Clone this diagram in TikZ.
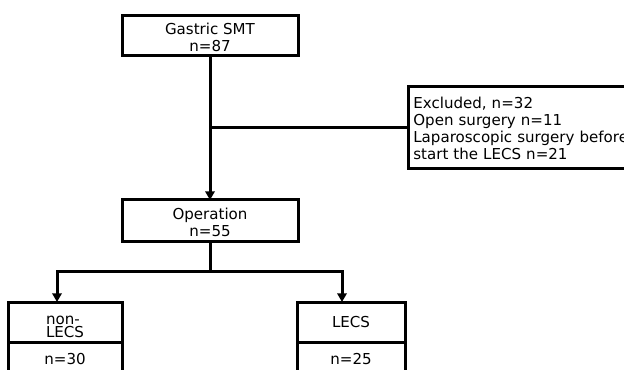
\documentclass[tikz,border=0pt]{standalone}
\usepackage{fontspec}
\setmainfont{DejaVu Sans}
\usetikzlibrary{arrows.meta,positioning}
\begin{document}
\begin{tikzpicture}[x=0.75pt,y=-0.75pt,
    box/.style={draw,line width=2.25pt,outer sep=0pt,inner sep=2pt,
        font=\fontsize{11.3}{12.75}\selectfont,align=center},
    line/.style={line width=2.25pt},
    arr/.style={line width=2.25pt,-{Triangle[width=7pt,length=6.5pt]}}]
    \useasboundingbox (0,0) rectangle (624,370);
    \clip (0,0) rectangle (624,370);
    %draw boxes
    \node[box,minimum width=132pt,minimum height=30pt] (smt) at (210,36) {\rule{0pt}{10pt}Gastric SMT\\n=87};
    \node[box,minimum width=132pt,minimum height=31.5pt] (op) at (210,221) {\rule{0pt}{10pt}Operation\\n=55};
    \node[box,anchor=north west,minimum width=180pt,minimum height=61.5pt,
        align=left,text width=172pt,inner xsep=3pt] (excl) at (408,87)
        {Excluded, n=32\\Open surgery n=11\\Laparoscopic surgery before\\start the LECS n=21};
    \node[box,minimum width=85.5pt,minimum height=30pt,
        font=\fontsize{11.3}{10}\selectfont,align=left] (nonlecs) at (65,322) {\rule{0pt}{13.5pt}non-\\LECS};
    \node[box,below=0pt of nonlecs,minimum width=85.5pt,minimum height=25.5pt] (nonlecsn) {n=30};
    \node[box,minimum width=81pt,minimum height=30pt] (lecs) at (351,322) {LECS};
    \node[box,below=0pt of lecs,minimum width=81pt,minimum height=25.5pt] (lecsn) {n=25};
    %draw lines
    \coordinate (brk) at (smt.south |- excl.west);
    \coordinate (split) at (210,271);
    \draw[arr] (smt) -- (op);
    \draw[line] (brk) -- (excl.west);
    \draw[line] (op) -- (split);
    \draw[arr] (split) -| ([xshift=-6pt]nonlecs.north);
    \draw[arr] (split) -| ([xshift=-6.75pt]lecs.north);
\end{tikzpicture}
\end{document}
